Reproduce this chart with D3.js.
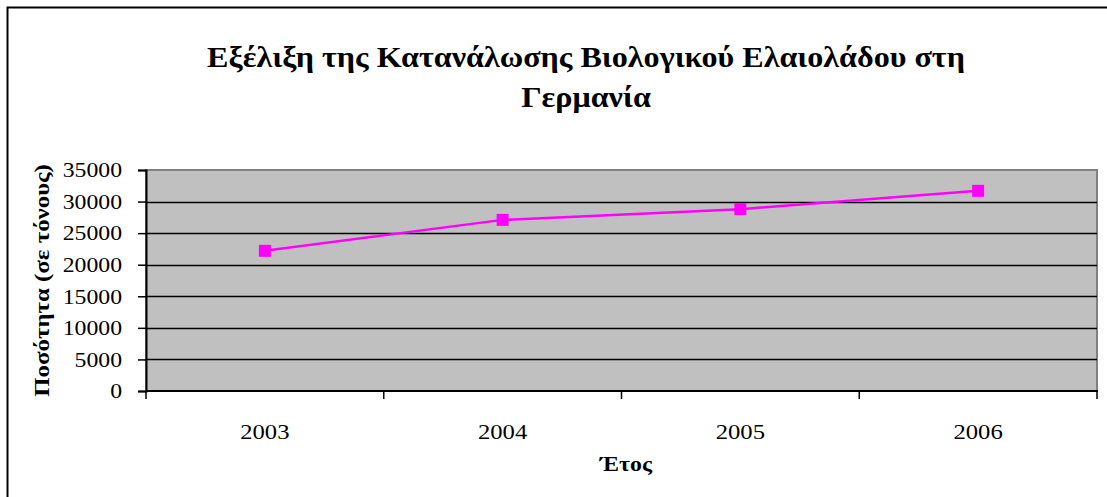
<!DOCTYPE html>
<html>
<head>
<meta charset="utf-8">
<script src="https://cdn.jsdelivr.net/npm/d3@7"></script>
<style>
  html, body { margin: 0; padding: 0; background: #fff; }
  svg text { font-family: "Liberation Serif", "Times New Roman", serif; fill: #000; }
</style>
</head>
<body>
<svg id="chart" width="1107" height="497"></svg>
<script>
// data
var years = ['2003', '2004', '2005', '2006'];
var quantities = [22200, 27100, 28800, 31700];
var yTicks = [0, 5000, 10000, 15000, 20000, 25000, 30000, 35000];

var titleLines = ['Εξέλιξη της Κατανάλωσης Βιολογικού Ελαιολάδου στη', 'Γερμανία'];
var yTitle = 'Ποσότητα (σε τόνους)';
var xTitle = 'Έτος';

var svg = d3.select('#chart');

// the original chart is a bit wider than its fonts, so text is stretched sideways
function stretch(sel, k) {
    sel.each(function () {
        var w = this.getComputedTextLength();
        d3.select(this)
            .attr('textLength', w * k)
            .attr('lengthAdjust', 'spacingAndGlyphs');
    });
}

// frame of the chart object (only top and left edges are visible)
svg.append('path')
    .attr('d', 'M7.5,497 L7.5,7.5 L1107,7.5')
    .attr('fill', 'none')
    .attr('stroke', '#000')
    .attr('stroke-width', 2);

var plot = { left: 146, top: 170, right: 1097, bottom: 391 };

var x = d3.scaleBand()
    .domain(years)
    .range([plot.left, plot.right])
    .padding(0);

var y = d3.scaleLinear()
    .domain([0, 35000])
    .range([plot.bottom, plot.top]);

// plot background
svg.append('rect')
    .attr('x', plot.left)
    .attr('y', plot.top)
    .attr('width', plot.right - plot.left)
    .attr('height', plot.bottom - plot.top)
    .attr('fill', '#c0c0c0')
    .attr('stroke', '#808080')
    .attr('stroke-width', 2);

// gridlines
svg.append('g')
    .selectAll('line')
    .data(yTicks.filter(function (d) { return d > 0 && d < 35000; }))
    .enter()
    .append('line')
    .attr('x1', plot.left)
    .attr('x2', plot.right)
    .attr('y1', function (d) { return Math.round(y(d)) + 0.5; })
    .attr('y2', function (d) { return Math.round(y(d)) + 0.5; })
    .attr('stroke', '#000')
    .attr('stroke-width', 1.3);

// y axis
var yAxis = svg.append('g')
    .attr('transform', 'translate(' + plot.left + ',0)')
    .call(d3.axisLeft(y).tickValues(yTicks).tickSize(8).tickPadding(16)
        .tickFormat(d3.format('d')));
yAxis.select('.domain').attr('stroke', '#000').attr('stroke-width', 2);
yAxis.selectAll('.tick line').attr('stroke', '#000').attr('stroke-width', 1.5);
yAxis.selectAll('.tick text')
    .attr('font-size', 21)
    .attr('font-family', '"Liberation Serif", serif')
    .attr('fill', '#000')
    .call(stretch, 1.13);

// x axis: ticks on band boundaries, labels centered in bands
var xAxisG = svg.append('g')
    .attr('transform', 'translate(0,' + plot.bottom + ')');
xAxisG.append('line')
    .attr('x1', plot.left).attr('x2', plot.right + 1)
    .attr('y1', 0).attr('y2', 0)
    .attr('stroke', '#000').attr('stroke-width', 2);
var bounds = years.map(function (d) { return x(d); }).concat([plot.right]);
xAxisG.selectAll('.xtick')
    .data(bounds)
    .enter()
    .append('line')
    .attr('class', 'xtick')
    .attr('x1', function (d) { return d; })
    .attr('x2', function (d) { return d; })
    .attr('y1', 0).attr('y2', 8)
    .attr('stroke', '#000').attr('stroke-width', 1.5);
xAxisG.selectAll('.xlabel')
    .data(years)
    .enter()
    .append('text')
    .attr('class', 'xlabel')
    .attr('x', function (d) { return x(d) + x.bandwidth() / 2; })
    .attr('y', 48)
    .attr('text-anchor', 'middle')
    .attr('font-size', 22)
    .text(function (d) { return d; })
    .call(stretch, 1.12);

// line + markers
var line = d3.line()
    .x(function (d, i) { return x(years[i]) + x.bandwidth() / 2; })
    .y(function (d) { return y(d); });

svg.append('path')
    .datum(quantities)
    .attr('d', line)
    .attr('fill', 'none')
    .attr('stroke', '#ff00ff')
    .attr('stroke-width', 2.5);

svg.selectAll('.marker')
    .data(quantities)
    .enter()
    .append('rect')
    .attr('class', 'marker')
    .attr('x', function (d, i) { return x(years[i]) + x.bandwidth() / 2 - 6; })
    .attr('y', function (d) { return y(d) - 6; })
    .attr('width', 12)
    .attr('height', 12)
    .attr('fill', '#ff00ff');

// titles
svg.append('g')
    .selectAll('text')
    .data(titleLines)
    .enter()
    .append('text')
    .attr('x', 586)
    .attr('y', function (d, i) { return 67 + i * 40; })
    .attr('text-anchor', 'middle')
    .attr('font-size', 30)
    .attr('font-weight', 'bold')
    .text(function (d) { return d; })
    .call(stretch, 1.07);

svg.append('text')
    .attr('transform', 'translate(49,' + ((plot.top + plot.bottom) / 2) + ') rotate(-90)')
    .attr('text-anchor', 'middle')
    .attr('font-size', 22)
    .attr('font-weight', 'bold')
    .text(yTitle)
    .call(stretch, 1.13);

svg.append('text')
    .attr('x', 626)
    .attr('y', 471)
    .attr('text-anchor', 'middle')
    .attr('font-size', 22)
    .attr('font-weight', 'bold')
    .text(xTitle)
    .call(stretch, 1.08);
</script>
</body>
</html>
